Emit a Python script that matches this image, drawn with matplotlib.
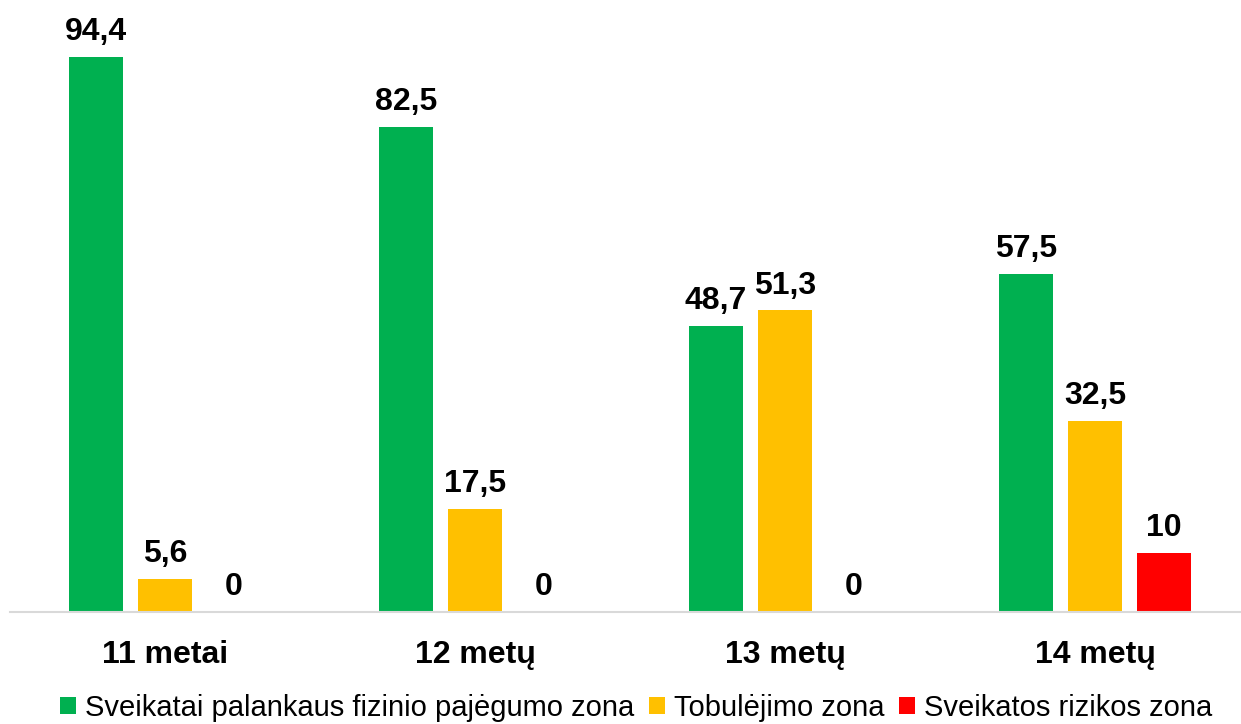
import matplotlib
matplotlib.use("Agg")
import matplotlib.pyplot as plt
import numpy as np
from matplotlib.patches import Patch

categories = ["11 metai", "12 metų", "13 metų", "14 metų"]
series_names = ["Sveikatai palankaus fizinio pajėgumo zona", "Tobulėjimo zona", "Sveikatos rizikos zona"]
green_vals = [94.4, 82.5, 48.7, 57.5]
yellow_vals = [5.6, 17.5, 51.3, 32.5]
red_vals = [0, 0, 0, 10]
colors = ["#00B050", "#FFC000", "#FF0000"]

plt.rcParams['font.family'] = ['Liberation Sans', 'DejaVu Sans']

W, H = 1241, 724
fig = plt.figure(figsize=(W / 100, H / 100), dpi=100)
ax_left, ax_w = 10 / W, 1240 / W
ax_bottom = (H - 612) / H
ax_h = 588 / H
ax = fig.add_axes([ax_left, ax_bottom, ax_w, ax_h])

x = np.arange(len(categories))
pitch = 69 / 310
bw = 54 / 310
all_vals = [green_vals, yellow_vals, red_vals]
for k, (vals, c) in enumerate(zip(all_vals, colors)):
    pos = x + (k - 1) * pitch
    ax.bar(pos, vals, width=bw, color=c, zorder=2)
    for p, v in zip(pos, vals):
        txt = f"{v:g}".replace(".", ",")
        ax.annotate(txt, (p, v), xytext=(0, 7), textcoords="offset points",
                    ha="center", va="bottom", fontsize=23, fontweight="bold", color="black")

ax.set_xlim(-0.5, 3.5)
ax.set_ylim(0, 100)
ax.set_yticks([])
ax.set_xticks(x)
ax.set_xticklabels(categories, fontsize=23, fontweight="bold")
ax.tick_params(axis="x", length=0, pad=20)
for s in ["top", "right", "left"]:
    ax.spines[s].set_visible(False)
ax.spines["bottom"].set_color("#D9D9D9")
ax.spines["bottom"].set_linewidth(1.5)

handles = [Patch(facecolor=c, edgecolor="none") for c in colors]
fig.legend(handles, series_names, loc="center", bbox_to_anchor=(636 / W, 1 - 708 / H),
           ncol=3, frameon=False, fontsize=21, handlelength=0.55, handleheight=0.55,
           handletextpad=0.3, columnspacing=0.5, borderaxespad=0)

fig.savefig("out.png", dpi=100)
